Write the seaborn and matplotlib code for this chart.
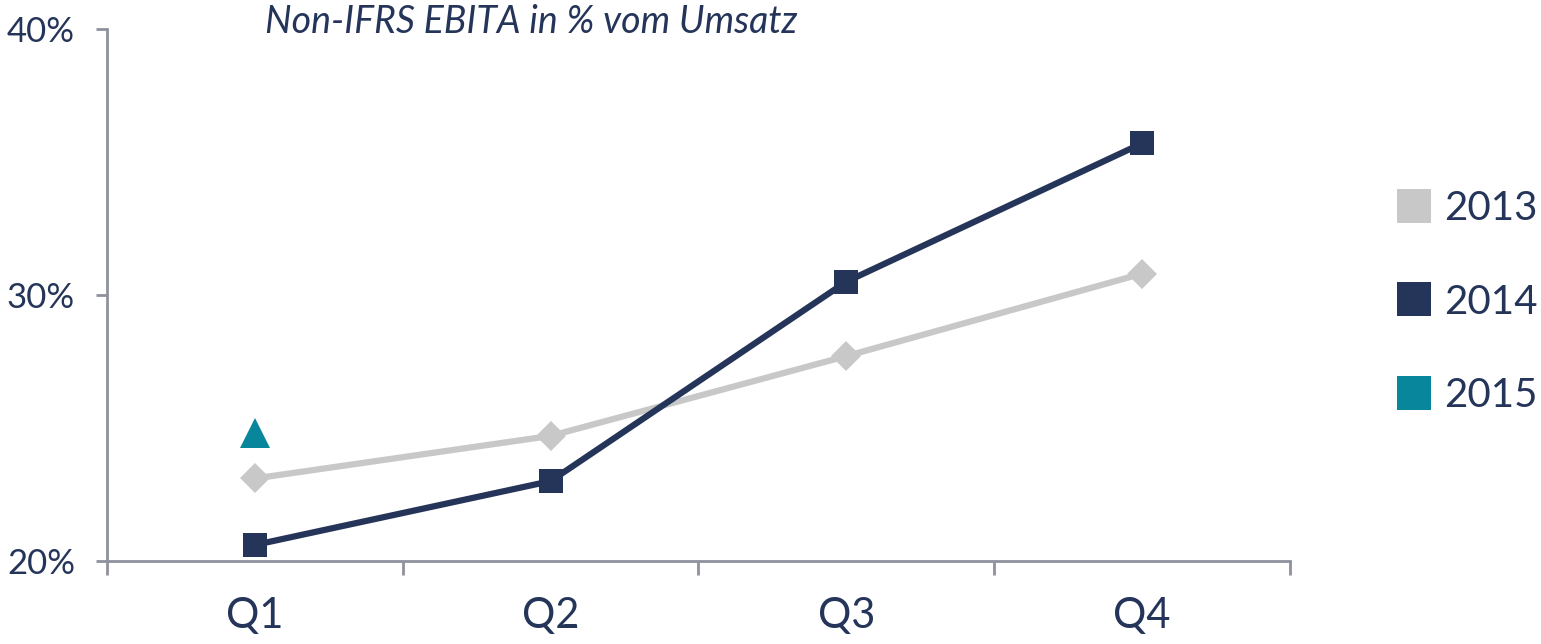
import matplotlib
matplotlib.use("Agg")
import matplotlib.pyplot as plt
import seaborn as sns
import pandas as pd
import numpy as np
from matplotlib.lines import Line2D

quarters = ["Q1", "Q2", "Q3", "Q4"]
v2013 = [23.1, 24.7, 27.7, 30.8]
v2014 = [20.6, 23.0, 30.5, 35.7]
v2015 = [24.8]
years = ["2013", "2014", "2015"]
yticks = [20, 30, 40]
title = "Non-IFRS EBITA in % vom Umsatz"

navy = "#253559"
gray = "#C8C8C8"
teal = "#08879C"
axis_col = "#8E929E"

sns.set_theme(style="white")
plt.rcParams['font.family'] = ['Lato', 'DejaVu Sans']

fig = plt.figure(figsize=(15.41, 6.44), dpi=100)
ax = fig.add_axes([0.0694, 0.129, 0.7677, 0.826])

df13 = pd.DataFrame({"x": np.arange(len(v2013)), "y": v2013})
df14 = pd.DataFrame({"x": np.arange(len(v2014)), "y": v2014})
df15 = pd.DataFrame({"x": np.arange(len(v2015)), "y": v2015})

sns.lineplot(data=df13, x="x", y="y", ax=ax, color=gray, linewidth=4.5,
             marker="D", markersize=15, markeredgewidth=0, markerfacecolor=gray)
sns.lineplot(data=df14, x="x", y="y", ax=ax, color=navy, linewidth=4.5,
             marker="s", markersize=17, markeredgewidth=0, markerfacecolor=navy)
sns.lineplot(data=df15, x="x", y="y", ax=ax, color=teal, linewidth=0,
             marker="^", markersize=21, markeredgewidth=0, markerfacecolor=teal)

ax.set_xlim(-0.5, 3.5)
ax.set_ylim(20, 40)
ax.set_xlabel("")
ax.set_ylabel("")
ax.set_xticks(range(len(quarters)))
ax.set_xticklabels(quarters, fontsize=30, color=navy)
ax.set_xticks(np.arange(-0.5, 3.6, 1.0), minor=True)
ax.set_yticks(yticks)
ax.set_yticklabels([f"{t}%" for t in yticks], fontsize=25, color=navy)

for s in ["top", "right"]:
    ax.spines[s].set_visible(False)
for s in ["left", "bottom"]:
    ax.spines[s].set_color(axis_col)
    ax.spines[s].set_linewidth(2)

ax.tick_params(axis="x", which="major", length=0, pad=26)
ax.tick_params(axis="x", which="minor", length=10, width=2, color=axis_col, direction="out", bottom=True)
ax.tick_params(axis="y", which="major", length=8, width=2, color=axis_col, direction="out", left=True, pad=15)

fig.text(265 / 1541, 1 - 22 / 644, title, fontsize=27, style="italic", color=navy,
         ha="left", va="center")

handles = [Line2D([], [], linestyle="none", marker="s", markersize=25, color=c,
                  markeredgewidth=0) for c in [gray, navy, teal]]
leg = fig.legend(handles, years, loc="center left", bbox_to_anchor=(1394 / 1541, 1 - 302 / 644),
                 frameon=False, fontsize=29, labelspacing=1.4, handletextpad=0.25,
                 handlelength=1.0, borderaxespad=0, borderpad=0)
for t in leg.get_texts():
    t.set_color(navy)

fig.savefig("out.png", dpi=100)
